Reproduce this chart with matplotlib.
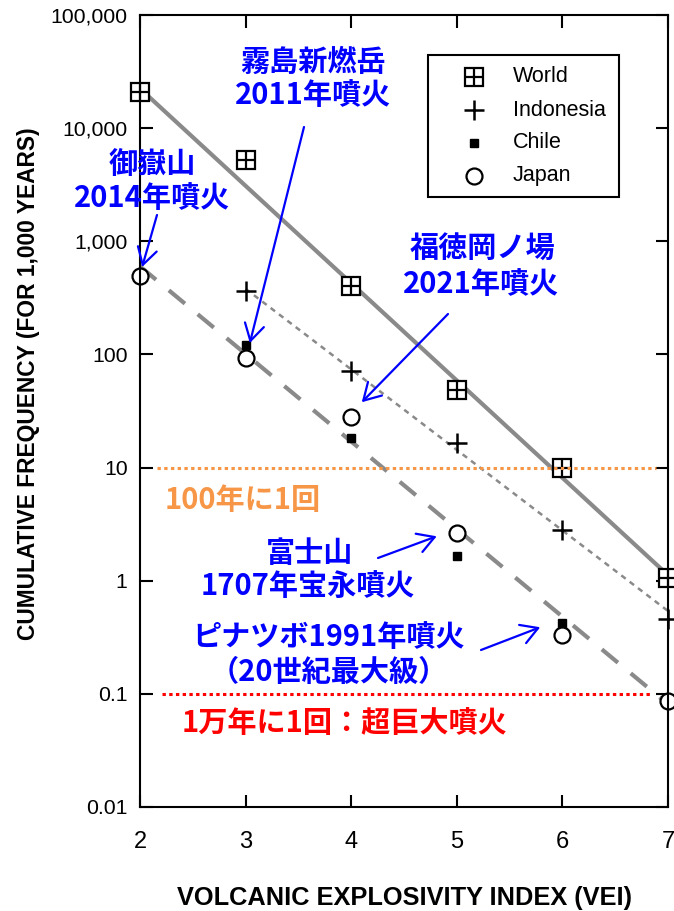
import numpy as np
import matplotlib.pyplot as plt
from matplotlib.patches import Rectangle
from matplotlib.ticker import NullLocator

plt.rcParams['font.family'] = ['Liberation Sans', 'DejaVu Sans']

# cumulative eruption frequency per 1,000 years by VEI
world_vei = [2, 3, 4, 5, 6, 7]
world_freq = [21000, 5200, 400, 48, 10, 1.06]
indo_vei = [3, 4, 5, 6, 7]
indo_freq = [360, 71, 16.6, 2.8, 0.46]
chile_vei = [3, 4, 5, 6]
chile_freq = [120, 18.2, 1.65, 0.42]
japan_vei = [2, 3, 4, 5, 6, 7]
japan_freq = [490, 93, 28, 2.65, 0.33, 0.086]

# trend lines (end points)
world_fit_vei = [2, 7]
world_fit = [22400, 1.12]
indo_fit_vei = [3, 7]
indo_fit = [380, 0.54]
japan_fit_vei = [2, 7]
japan_fit = [600, 0.081]

# once per 100 years / once per 10,000 years
level_100y = 10
level_10000y = 0.1

xticks = [2, 3, 4, 5, 6, 7]
yticks = [0.01, 0.1, 1, 10, 100, 1000, 10000, 100000]
ytick_labels = ['0.01', '0.1', '1', '10', '100', '1,000', '10,000', '100,000']

W, H = 674, 911
fig = plt.figure(figsize=(W / 100, H / 100), dpi=100)
ax = fig.add_axes([140 / W, 1 - 807 / H, 528 / W, 792 / H])
ax.set_yscale('log')
ax.set_xlim(2, 7)
ax.set_ylim(0.01, 100000)

gray = '#8a8a8a'
ax.plot(world_fit_vei, world_fit, color=gray, lw=3, solid_capstyle='butt', zorder=2)
ax.plot(indo_fit_vei, indo_fit, color=gray, lw=1.8, dashes=(2.2, 2.0), zorder=2)
ax.plot(japan_fit_vei, japan_fit, color=gray, lw=3, dashes=(5, 4), zorder=2)

mk = dict(ls='none', clip_on=False)
ax.plot(world_vei, world_freq, marker='s', ms=13, mfc='white', mec='black', mew=1.6, zorder=4, **mk)
ax.plot(world_vei, world_freq, marker='+', ms=13, mec='black', mew=1.6, zorder=4.1, **mk)
ax.plot(indo_vei, indo_freq, marker='+', ms=15, mec='black', mew=1.8, zorder=4, **mk)
ax.plot(chile_vei, chile_freq, marker='s', ms=6, mfc='black', mec='black', zorder=4, **mk)
ax.plot(japan_vei, japan_freq, marker='o', ms=11.5, mfc='white', mec='black', mew=1.6, zorder=4.2, **mk)

# reference levels
ax.hlines(level_100y, 2.16, 6.89, colors='#F79646', lw=2.2, linestyles=(0, (1.1, 1.1)), zorder=6)
ax.hlines(level_10000y, 2.21, 6.84, colors='#FF0000', lw=2.2, linestyles=(0, (1.1, 1.1)), zorder=6)

ax.set_xticks(xticks)
ax.set_xticklabels([str(v) for v in xticks])
ax.set_yticks(yticks)
ax.set_yticklabels(ytick_labels)
ax.yaxis.set_minor_locator(NullLocator())
ax.tick_params(which='both', direction='in', top=True, right=True, length=9, width=1.5)
ax.tick_params(axis='x', pad=17, labelsize=17)
ax.tick_params(axis='y', pad=9, labelsize=15.3)
for s in ax.spines.values():
    s.set_linewidth(1.5)
    s.set_zorder(5)

fig.text(0.5 * (140 + 668) / W, 1 - 898 / H, 'VOLCANIC EXPLOSIVITY INDEX (VEI)',
         ha='center', va='center', fontsize=18.3, fontweight='bold')
fig.text(29 / W, 1 - 384 / H, 'CUMULATIVE FREQUENCY (FOR 1,000 YEARS)',
         ha='center', va='center', rotation=90, fontsize=16.4, fontweight='bold')

# legend box
def ax_xy(px, py):
    return (px - 140) / 528, (807 - py) / 792

x0, y0 = ax_xy(428, 197)
x1, y1 = ax_xy(619, 55)
ax.add_patch(Rectangle((x0, y0), x1 - x0, y1 - y0, transform=ax.transAxes,
                       fill=True, fc='white', ec='black', lw=1.5, zorder=7))
mx, _ = ax_xy(474, 0)
lx, _ = ax_xy(513, 0)
rows = [77, 110, 143, 176]
names = ['World', 'Indonesia', 'Chile', 'Japan']
styles = [
    [dict(marker='s', ms=13, mfc='white', mec='black', mew=1.6),
     dict(marker='+', ms=13, mec='black', mew=1.6)],
    [dict(marker='+', ms=15, mec='black', mew=1.8)],
    [dict(marker='s', ms=6, mfc='black', mec='black')],
    [dict(marker='o', ms=11.5, mfc='white', mec='black', mew=1.6)],
]
for py, name, st in zip(rows, names, styles):
    _, yy = ax_xy(0, py)
    for s in st:
        ax.plot([mx], [yy], transform=ax.transAxes, ls='none', zorder=8, clip_on=False, **s)
    ax.text(lx, yy, name, transform=ax.transAxes, ha='left', va='center', fontsize=15.5, zorder=8)

# annotations
jp = dict(family=['Noto Sans CJK JP', 'DejaVu Sans'], fontweight='bold', fontsize=21)
blue = '#0000FF'
labels = [
    ('霧島新燃岳', 313, 62, blue),
    ('2011年噴火', 313, 95, blue),
    ('御嶽山', 152, 164, blue),
    ('2014年噴火', 152, 198, blue),
    ('福徳岡ノ場', 482, 248, blue),
    ('2021年噴火', 481, 284, blue),
    ('100年に1回', 243, 500, '#F79646'),
    ('富士山', 310, 553, blue),
    ('1707年宝永噴火', 308, 586, blue),
    ('ピナツボ1991年噴火', 329, 637, blue),
    ('（20世紀最大級）', 329, 672, blue),
    ('1万年に1回：超巨大噴火', 345, 723, '#FF0000'),
]
for txt, px, py, c in labels:
    tx, ty = ax_xy(px, py)
    ax.text(tx, ty, txt, transform=ax.transAxes, ha='center', va='center', color=c, zorder=9, **jp)

arrows = [
    ((2.02, 592), (157, 215)),
    ((3.04, 126), (304, 127)),
    ((4.10, 37.8), (448, 314)),
    ((4.81, 2.47), (378, 558)),
    ((5.79, 0.388), (481, 650)),
]
for tip, (px, py) in arrows:
    ax.annotate('', xy=tip, xycoords='data', xytext=ax_xy(px, py), textcoords='axes fraction',
                arrowprops=dict(arrowstyle='->,head_length=0.6,head_width=0.35', color=blue,
                                lw=1.6, mutation_scale=20, shrinkA=0, shrinkB=0),
                zorder=9)

fig.savefig('out.png', dpi=100)
